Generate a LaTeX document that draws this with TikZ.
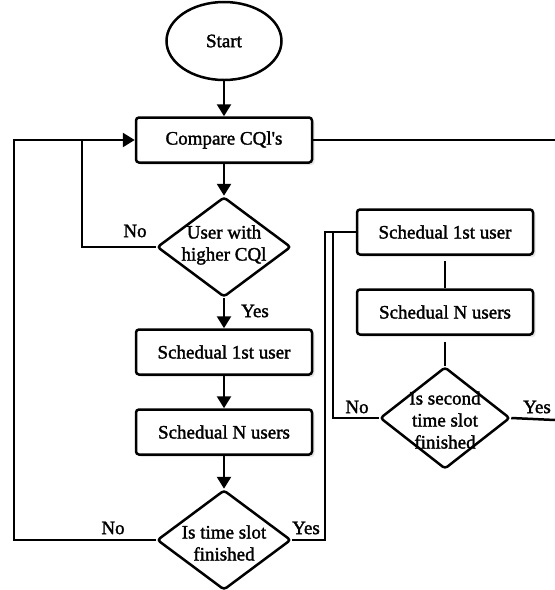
\documentclass[tikz,border=0pt]{standalone}
\usepackage{fontspec}
\setmainfont{Liberation Serif}
\newfontfamily\chartfont{Liberation Serif}[FakeBold=1.6]
\usepackage{tikz}
\usetikzlibrary{shapes.geometric, arrows.meta, shadows}

\begin{document}
\begin{tikzpicture}[x=1pt, y=-1pt, line width=2.5pt,
    every node/.style={font=\chartfont\fontsize{19}{22}\selectfont},
    box/.style={draw, rectangle, rounded corners=3pt, fill=white, minimum width=176pt, minimum height=45pt,
        drop shadow={shadow xshift=2.5pt, shadow yshift=-2.5pt, opacity=0.2}},
    term/.style={draw, ellipse, minimum width=115pt, minimum height=78pt, inner sep=0pt},
    dec/.style={draw, diamond, rounded corners=3pt, minimum width=134pt, minimum height=100pt, inner sep=0pt},
    txt/.style={align=center, inner sep=0pt},
    lbl/.style={inner sep=0pt},
    arr/.style={-{Triangle[length=12pt, width=14pt]}},
    wire/.style={}]
    \useasboundingbox (0,0) rectangle (555,590);
    % main column
    \node[term] (start) at (224,41) {Start};
    \node[box] (cmp) at (224,140) {Compare CQl\textquotesingle s};
    \node[dec] (dec1) at (224,247) {};
    \node[txt] (dec1txt) at (224,245) {User with\\higher CQl};
    \node[box] (s1L) at (224,352) {Schedual 1st user};
    \node[box] (sNL) at (224,432) {Schedual N users};
    \node[dec] (dec2) at (224,540) {};
    \node[txt] (dec2txt) at (224,543) {Is time slot\\finished};
    % second time slot
    \node[box] (s1R) at (445,232) {Schedual 1st user};
    \node[box] (sNR) at (445,312) {Schedual N users};
    \node[dec, minimum width=130pt, minimum height=102pt] (dec3) at (445,418) {};
    \node[txt] (dec3txt) at (445,420) {Is second\\time slot\\finished};
    % junctions
    \coordinate (jout) at (14,140);
    \coordinate (jin) at (82,140);
    \coordinate (jr) at (325,232);
    \coordinate (jr2) at (333,232);
    \coordinate (rend1) at (555,140);
    \coordinate (rend2) at (555,420);
    % connectors
    \draw[arr] (start) -- (cmp);
    \draw[arr] (cmp) -- (dec1);
    \draw[arr] (dec1) -- (s1L);
    \draw[arr] (s1L) -- (sNL);
    \draw[arr] (sNL) -- (dec2);
    \draw[wire] (dec1.west) -| (jin);
    \draw[arr] (dec2.west) -| (jout) -- (cmp.west);
    \draw[wire] (cmp.east) -- (rend1);
    \draw[wire] (dec2.east) -| (jr) -- (s1R.west);
    \draw[wire, shorten <=5pt] (s1R) -- (sNR);
    \draw[wire, shorten <=6pt] (sNR) -- (dec3);
    \draw[wire] (dec3.west) -| (jr2);
    \draw[wire] (dec3.east) -- (rend2);
    % labels
    \node[lbl] (no1) at (135,231) {No};
    \node[lbl] (yes1) at (255,311) {Yes};
    \node[lbl] (no2) at (113,528) {No};
    \node[lbl] (yes2) at (306,528) {Yes};
    \node[lbl] (no3) at (357,407) {No};
    \node[lbl] (yes3) at (537,407) {Yes};
\end{tikzpicture}
\end{document}
